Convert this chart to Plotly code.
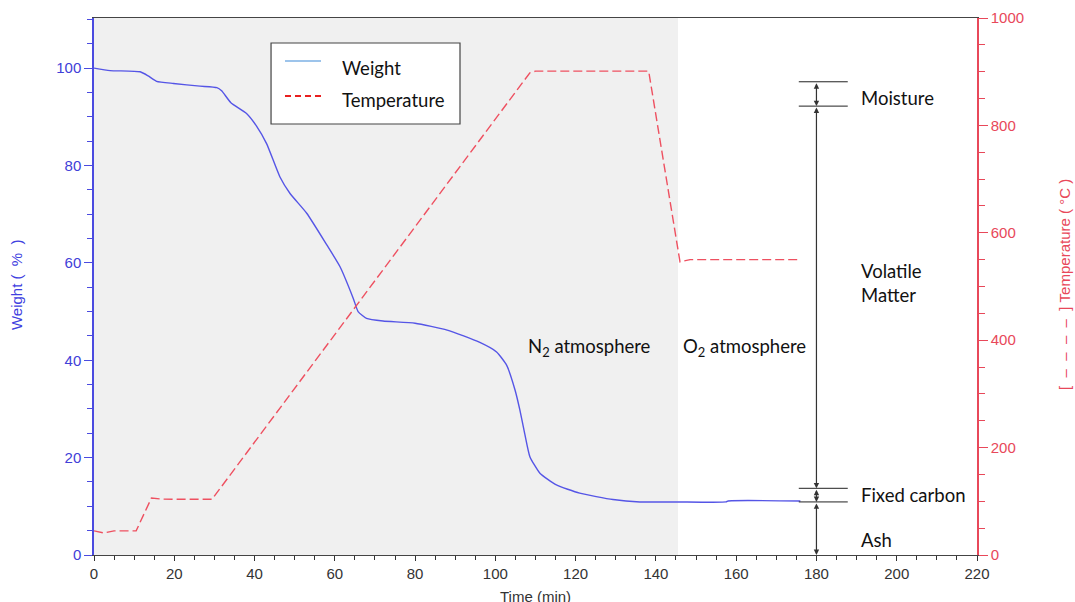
import plotly.graph_objects as go

# ---- data ----
weight_time = [0, 4, 11.5, 13.5, 15.6, 19.8, 26.4, 30.6, 31.8, 34.1, 38, 40.5, 43, 46.3, 48.8,
               53, 58, 61.3, 64.6, 65.8, 67.9, 72, 80, 88, 96, 100.3, 102.8, 104.9, 106.1,
               107.3, 108.6, 111.1, 115.2, 121, 129.3, 136, 145, 157.5, 158, 176]
weight_pct = [100, 99.5, 99.25, 98.4, 97.3, 96.85, 96.3, 96.0, 95.35, 92.9, 90.7, 88.1, 84.5,
              77.7, 74.3, 70.2, 63.7, 59.2, 52.7, 50.0, 48.6, 48.05, 47.6, 46.2, 43.7, 41.7,
              39.0, 33.9, 29.8, 25.0, 20.2, 16.8, 14.4, 12.7, 11.4, 10.9, 10.9, 10.9, 11.1, 11.1]

temp_time = [0, 2.5, 5, 10.5, 14.3, 17, 29.4, 108.6, 110, 138.2, 146, 148.5, 176]
temp_c = [45, 41, 45, 45, 106, 104, 103.7, 898, 901, 901, 546, 550, 550]

n2_end = 145.5                      # end of N2 atmosphere (min)
marker_x = 180                      # x of proximate-analysis arrows
levels = [97.2, 92.2, 13.7, 10.9, 0]  # moisture top, volatile top, fixed C top, ash top, zero
labels = ["Moisture", "Volatile<br>Matter", "Fixed carbon", "Ash"]
label_y = [93.8, 55.9, 12.3, 3.1]

x_ticks = list(range(0, 221, 20))
w_ticks = list(range(0, 101, 20))
t_ticks = list(range(0, 1001, 200))

BLUE = "#4b4be0"
RED = "#e8485a"
TXT = "Lato"
AX = "Liberation Sans Narrow, Liberation Sans, Arial, sans-serif"
AXV = "Liberation Sans, Arial, sans-serif"
NB = "\u00a0"

fig = go.Figure()
fig.add_trace(go.Scatter(x=weight_time, y=weight_pct, mode="lines", name="Weight",
                         line=dict(color="#5555e6", width=1.4, shape="spline", smoothing=0.5),
                         yaxis="y", showlegend=False))
fig.add_trace(go.Scatter(x=temp_time, y=temp_c, mode="lines", name="Temperature",
                         line=dict(color="#ee5060", width=1.4, dash="9px,4px"),
                         yaxis="y2", showlegend=False))

# shaded N2 region
fig.add_shape(type="rect", xref="x", yref="paper", x0=0, x1=n2_end, y0=0, y1=1,
              fillcolor="#f0f0f0", line_width=0, layer="below")

# horizontal boundary lines
for yv in levels[:4]:
    fig.add_shape(type="line", xref="x", yref="y", x0=175.6, x1=187.8, y0=yv, y1=yv,
                  line=dict(color="#222", width=1))

# double arrows between levels
for top, bot in zip(levels[:-1], levels[1:]):
    fig.add_annotation(x=marker_x, y=bot, ax=marker_x, ay=top, xref="x", yref="y",
                       axref="x", ayref="y", showarrow=True, arrowhead=2, arrowside="end+start",
                       arrowsize=0.9, arrowwidth=1.2, arrowcolor="#333", standoff=0,
                       startstandoff=0, text="")

for lab, ly in zip(labels, label_y):
    fig.add_annotation(x=190.5, y=ly, xref="x", yref="y", text=lab, showarrow=False,
                       xanchor="left", yanchor="middle", align="left",
                       font=dict(family=TXT, size=18.5, color="#111"))

fig.add_annotation(x=123.4, y=42.7, xref="x", yref="y", text="N<sub>2</sub> atmosphere",
                   showarrow=False, font=dict(family=TXT, size=18.5, color="#111"))
fig.add_annotation(x=162.0, y=42.7, xref="x", yref="y", text="O<sub>2</sub> atmosphere",
                   showarrow=False, font=dict(family=TXT, size=18.5, color="#111"))

# manual legend box
fig.add_shape(type="rect", xref="paper", yref="paper", x0=0.2005, x1=0.4145, y0=0.8026,
              y1=0.9534, fillcolor="white", line=dict(color="#444", width=1.2))
fig.add_shape(type="line", xref="paper", yref="paper", x0=0.2163, x1=0.2571, y0=0.9199,
              y1=0.9199, line=dict(color="#3c8ad8", width=1.2))
fig.add_shape(type="line", xref="paper", yref="paper", x0=0.2163, x1=0.2593, y0=0.8547,
              y1=0.8547, line=dict(color="#e82020", width=2, dash="6px,4px"))
fig.add_annotation(x=0.2786, y=0.906, xref="paper", yref="paper", text="Weight",
                   showarrow=False, xanchor="left", yanchor="middle",
                   font=dict(family=TXT, size=18.5, color="#111"))
fig.add_annotation(x=0.2786, y=0.8473, xref="paper", yref="paper", text="Temperature",
                   showarrow=False, xanchor="left", yanchor="middle",
                   font=dict(family=TXT, size=18.5, color="#111"))

# axis titles
fig.add_annotation(x=-0.087, y=0.503, xref="paper", yref="paper",
                   text=f"Weight{NB}({NB}{NB}%{NB}{NB})", xanchor="center", yanchor="middle",
                   textangle=-90, showarrow=False, font=dict(family=AXV, size=15, color="#4040e0"))
fig.add_annotation(x=1.0997, y=0.503, xref="paper", yref="paper", xanchor="center",
                   yanchor="middle",
                   text=f"[{NB}{NB}–{NB}{NB}–{NB}{NB}–{NB}{NB}–{NB}{NB}]{NB}Temperature{NB}({NB}°C{NB})",
                   textangle=-90, showarrow=False, font=dict(family=AXV, size=15, color=RED))
fig.add_annotation(x=0.5, y=-0.077, xref="paper", yref="paper", text="Time (min)",
                   showarrow=False, yanchor="middle", font=dict(family=AX, size=15, color="#333"))

fig.update_layout(
    width=1075, height=602,
    margin=dict(l=94, r=98, t=18, b=47, autoexpand=False),
    paper_bgcolor="white", plot_bgcolor="white",
    showlegend=False,
    xaxis=dict(range=[0, 220], tickvals=x_ticks, ticks="outside", ticklen=5, tickcolor="#333",
               showgrid=False, zeroline=False, showline=True, linecolor="#444", linewidth=1.2,
               mirror=True, automargin=False, tickfont=dict(family=AX, size=15, color="#333"),
               minor=dict(dtick=5, ticks="outside", ticklen=4, tickcolor="#333", showgrid=False)),
    yaxis=dict(range=[0, 110.3], tickvals=w_ticks, ticks="outside", ticklen=8, tickcolor=BLUE,
               showgrid=False, zeroline=False, showline=True, linecolor=BLUE, linewidth=1.5,
               automargin=False, tickfont=dict(family=AX, size=15, color="#4040d8"),
               minor=dict(dtick=5, ticks="outside", ticklen=5, tickcolor=BLUE, showgrid=False)),
    yaxis2=dict(range=[0, 1000], tickvals=t_ticks, overlaying="y", side="right",
                ticks="outside", ticklen=9, tickcolor=RED, showgrid=False, zeroline=False,
                showline=True, linecolor=RED, linewidth=1.5, automargin=False,
                tickfont=dict(family=AX, size=15, color=RED),
                minor=dict(dtick=50, ticks="outside", ticklen=6, tickcolor=RED, showgrid=False)),
)

fig.write_html("out.html", config={"displayModeBar": False},
               post_script="document.body.style.margin='0';document.body.style.overflow='hidden';")
